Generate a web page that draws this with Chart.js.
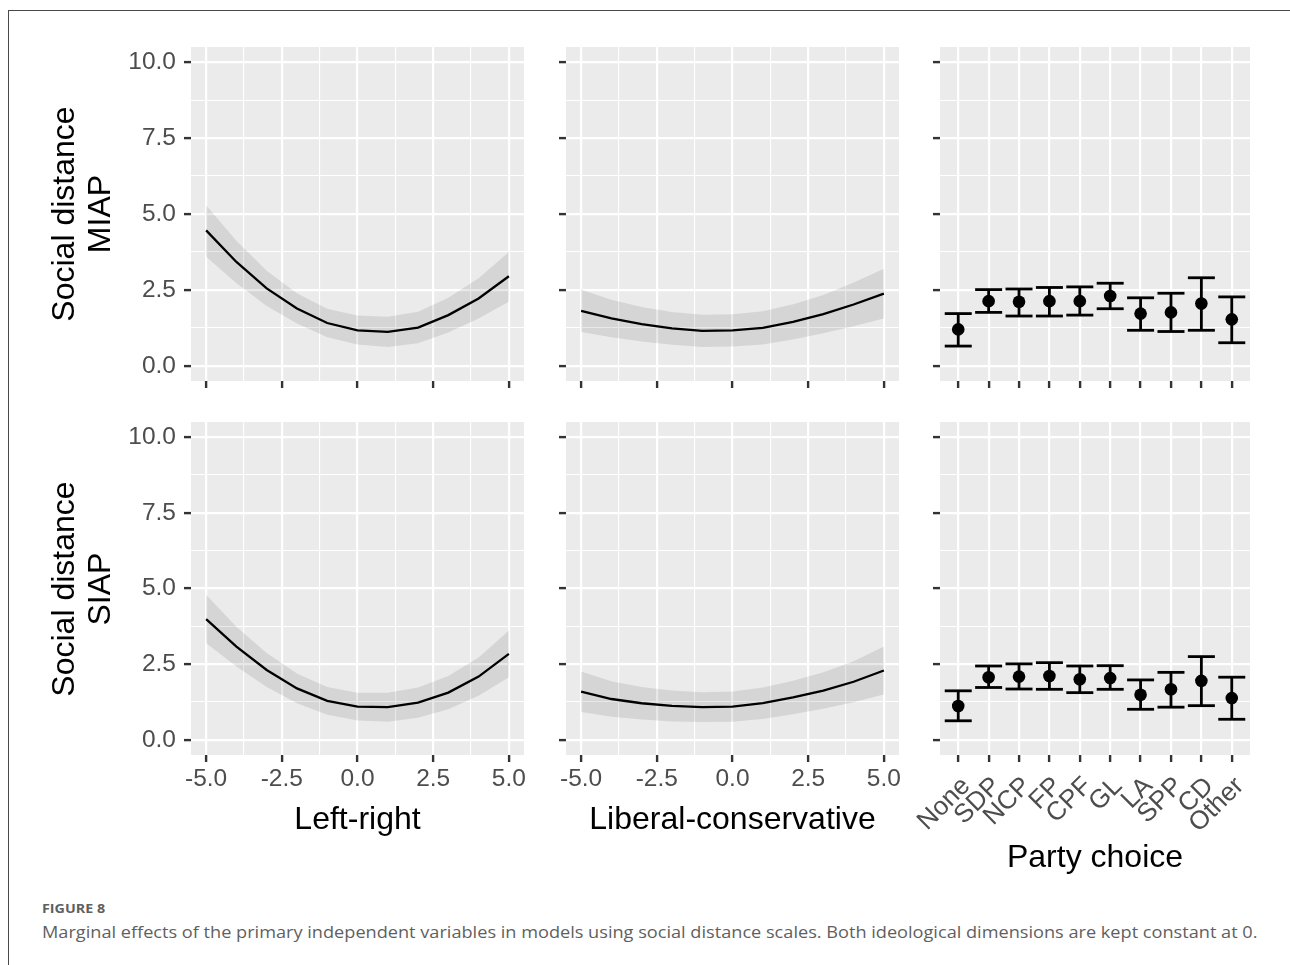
<!DOCTYPE html>
<html>
<head>
<meta charset="utf-8">
<script src="https://cdn.jsdelivr.net/npm/chart.js@4.4.1/dist/chart.umd.min.js"></script>
<style>
  html, body { margin: 0; padding: 0; background: #ffffff; }
  body { position: relative; width: 1290px; height: 965px; overflow: hidden; font-family: 'Liberation Sans', Arial, Helvetica, sans-serif; }
  .panel { position: absolute; }
  .panel canvas { display: block; }
  .xtitle { position: absolute; color: #000; font-size: 32px; line-height: 32px; white-space: nowrap; text-align: center; }
  .ytitle { position: absolute; color: #000; font-size: 32px; line-height: 36px; white-space: nowrap; text-align: center; width: 320px; height: 72px; transform: rotate(-90deg); transform-origin: 50% 50%; }
  .frame-top { position: absolute; left: 8px; top: 10px; width: 1282px; height: 1px; background: #4a4a4a; }
  .frame-left { position: absolute; left: 8px; top: 10px; width: 1px; height: 955px; background: #4a4a4a; }
  .figlabel { position: absolute; left: 42px; top: 899px; font-family: 'Open Sans', 'Noto Sans', sans-serif; font-weight: 700; font-size: 13px; color: #5f5f5f; white-space: nowrap; transform-origin: 0 50%; transform: scaleX(1.1); }
  .caption { position: absolute; left: 42px; top: 920px; font-family: 'Open Sans', 'Noto Sans', sans-serif; font-size: 16.4px; color: #5f5f5f; white-space: nowrap; transform-origin: 0 50%; transform: scaleX(1.107); }
</style>
</head>
<body>
<div class="frame-top"></div>
<div class="frame-left"></div>

<script>
// ---------------- DATA ----------------
const ideologyX = [-5, -4, -3, -2, -1, 0, 1, 2, 3, 4, 5];

// Left-right, MIAP
const lrMiapEst  = [4.46, 3.42, 2.55, 1.89, 1.41, 1.17, 1.12, 1.26, 1.67, 2.22, 2.95];
const lrMiapHigh = [5.29, 4.12, 3.13, 2.39, 1.88, 1.66, 1.62, 1.78, 2.24, 2.88, 3.75];
const lrMiapLow  = [3.59, 2.72, 1.97, 1.39, 0.94, 0.70, 0.62, 0.74, 1.10, 1.56, 2.11];

// Liberal-conservative, MIAP
const lcMiapEst  = [1.81, 1.56, 1.37, 1.23, 1.15, 1.17, 1.25, 1.45, 1.70, 2.02, 2.38];
const lcMiapHigh = [2.51, 2.18, 1.94, 1.77, 1.68, 1.70, 1.80, 2.03, 2.33, 2.74, 3.20];
const lcMiapLow  = [1.11, 0.94, 0.80, 0.69, 0.62, 0.64, 0.70, 0.87, 1.07, 1.30, 1.56];

// Left-right, SIAP
const lrSiapEst  = [3.99, 3.08, 2.31, 1.70, 1.29, 1.10, 1.08, 1.23, 1.56, 2.09, 2.84];
const lrSiapHigh = [4.79, 3.74, 2.87, 2.19, 1.75, 1.56, 1.56, 1.73, 2.11, 2.72, 3.61];
const lrSiapLow  = [3.19, 2.42, 1.75, 1.21, 0.83, 0.64, 0.60, 0.73, 1.01, 1.46, 2.07];

// Liberal-conservative, SIAP
const lcSiapEst  = [1.59, 1.35, 1.21, 1.12, 1.08, 1.10, 1.21, 1.40, 1.63, 1.92, 2.29];
const lcSiapHigh = [2.26, 1.94, 1.75, 1.63, 1.57, 1.60, 1.73, 1.95, 2.23, 2.60, 3.08];
const lcSiapLow  = [0.92, 0.76, 0.67, 0.61, 0.59, 0.60, 0.69, 0.85, 1.03, 1.24, 1.50];

// Party choice
const parties = ['None', 'SDP', 'NCP', 'FP', 'CPF', 'GL', 'LA', 'SPP', 'CD', 'Other'];
const partyMiapEst  = [1.20, 2.13, 2.11, 2.13, 2.13, 2.30, 1.72, 1.76, 2.05, 1.53];
const partyMiapLow  = [0.65, 1.76, 1.64, 1.64, 1.67, 1.88, 1.17, 1.13, 1.17, 0.76];
const partyMiapHigh = [1.72, 2.51, 2.53, 2.58, 2.60, 2.72, 2.24, 2.39, 2.90, 2.27];
const partySiapEst  = [1.12, 2.07, 2.09, 2.11, 2.00, 2.04, 1.49, 1.67, 1.95, 1.38];
const partySiapLow  = [0.63, 1.73, 1.68, 1.67, 1.56, 1.67, 1.01, 1.08, 1.13, 0.68];
const partySiapHigh = [1.62, 2.44, 2.51, 2.55, 2.44, 2.45, 1.98, 2.23, 2.75, 2.07];

// Tick values and labels
const xTickValues  = [-5, -2.5, 0, 2.5, 5];
const xTickLabels  = ['-5.0', '-2.5', '0.0', '2.5', '5.0'];
const xMinorValues = [-3.75, -1.25, 1.25, 3.75];
const yTickValues  = [0, 2.5, 5, 7.5, 10];
const yTickLabels  = ['0.0', '2.5', '5.0', '7.5', '10.0'];
const yMinorValues = [1.25, 3.75, 6.25, 8.75];

// Titles
const rowTitles = [['Social distance', 'MIAP'], ['Social distance', 'SIAP']];
const colTitles = ['Left-right', 'Liberal-conservative', 'Party choice'];
const figureLabel = 'FIGURE 8';
const figureCaption = 'Marginal effects of the primary independent variables in models using social distance scales. Both ideological dimensions are kept constant at 0.';

// ---------------- STYLE / HELPERS ----------------
const FONT = "'Liberation Sans', Arial, Helvetica, sans-serif";
const PANEL_BG = '#ebebeb';
const TICK_COLOR = '#333333';
const LABEL_COLOR = '#4d4d4d';

const panelBg = {
  id: 'panelBg',
  beforeDraw(chart) {
    const a = chart.chartArea;
    const ctx = chart.ctx;
    ctx.save();
    ctx.fillStyle = PANEL_BG;
    ctx.fillRect(a.left, a.top, a.right - a.left, a.bottom - a.top);
    ctx.restore();
  }
};

function near(a, b) { return Math.abs(a - b) < 1e-9; }

function axisCfg(o) {
  const all = o.major.concat(o.minor).sort((a, b) => a - b);
  const isMajor = v => o.major.some(m => near(m, v));
  return {
    type: 'linear',
    min: o.min, max: o.max,
    afterBuildTicks: s => { s.ticks = all.map(v => ({ value: v })); },
    afterFit: s => { if (o.width != null) s.width = o.width; if (o.height != null) s.height = o.height; },
    border: { display: false },
    grid: {
      color: '#ffffff',
      lineWidth: c => (c.tick && isMajor(c.tick.value)) ? 2.2 : 1.1,
      drawTicks: true,
      tickLength: 7,
      tickColor: c => (c.tick && isMajor(c.tick.value)) ? TICK_COLOR : 'rgba(0,0,0,0)',
      tickWidth: c => (c.tick && isMajor(c.tick.value)) ? 2.4 : 1
    },
    ticks: {
      display: o.showLabels,
      autoSkip: false,
      padding: o.pad,
      labelOffset: o.labelOffset || 0,
      color: LABEL_COLOR,
      font: { family: FONT, size: o.fontSize || 24.5 },
      minRotation: o.rotate || 0,
      maxRotation: o.rotate || 0,
      callback: (v) => {
        const i = o.major.findIndex(m => near(m, v));
        return i >= 0 ? o.labels[i] : '';
      }
    }
  };
}

function curveDatasets(est, lo, hi) {
  const pts = arr => ideologyX.map((x, i) => ({ x: x, y: arr[i] }));
  return [
    { data: pts(hi), borderWidth: 0, borderColor: 'rgba(0,0,0,0)', pointRadius: 0, fill: false, tension: 0 },
    { data: pts(lo), borderWidth: 0, borderColor: 'rgba(0,0,0,0)', pointRadius: 0, fill: '-1', backgroundColor: 'rgba(0,0,0,0.09)', tension: 0 },
    { data: pts(est), borderWidth: 2.3, borderColor: '#000000', pointRadius: 0, fill: false, tension: 0 }
  ];
}

function partyDatasets(est, lo, hi) {
  const bars = [];
  parties.forEach((p, i) => {
    bars.push({ x: i + 1, y: lo[i] }, { x: i + 1, y: hi[i] }, { x: i + 1, y: null });
  });
  return [
    { data: bars, showLine: true, spanGaps: false, borderColor: '#000000', borderWidth: 2.8,
      pointStyle: 'line', pointRadius: 13.5, pointBorderWidth: 2.8, pointBorderColor: '#000000', pointBackgroundColor: '#000000', fill: false },
    { data: est.map((v, i) => ({ x: i + 1, y: v })), showLine: false,
      pointStyle: 'circle', pointRadius: 6.3, pointBorderWidth: 0, pointBackgroundColor: '#000000', pointBorderColor: '#000000', fill: false }
  ];
}

// ---------------- PANELS ----------------
const panels = [
  { area: [191, 47, 524, 381], yLabels: true,  xMode: 'none',  ds: curveDatasets(lrMiapEst, lrMiapLow, lrMiapHigh) },
  { area: [566, 47, 899, 381], yLabels: false, xMode: 'none',  ds: curveDatasets(lcMiapEst, lcMiapLow, lcMiapHigh) },
  { area: [940, 47, 1250, 381], yLabels: false, xMode: 'noneParty', ds: partyDatasets(partyMiapEst, partyMiapLow, partyMiapHigh) },
  { area: [191, 422, 524, 755], yLabels: true,  xMode: 'num',   ds: curveDatasets(lrSiapEst, lrSiapLow, lrSiapHigh) },
  { area: [566, 422, 899, 755], yLabels: false, xMode: 'num',   ds: curveDatasets(lcSiapEst, lcSiapLow, lcSiapHigh) },
  { area: [940, 422, 1250, 755], yLabels: false, xMode: 'party', ds: partyDatasets(partySiapEst, partySiapLow, partySiapHigh) }
];

panels.forEach(p => {
  const [l, t, r, b] = p.area;
  const isParty = p.xMode === 'party' || p.xMode === 'noneParty';
  const Wy = p.yLabels ? 100 : 12;
  const padL = isParty ? 50 : 0;
  const T = 30, R = 30;
  const Hx = p.xMode === 'num' ? 50 : (p.xMode === 'party' ? 110 : 30);
  const cw = padL + Wy + (r - l) + R;
  const ch = T + (b - t) + Hx;

  const div = document.createElement('div');
  div.className = 'panel';
  div.style.left = (l - Wy - padL) + 'px';
  div.style.top = (t - T) + 'px';
  div.style.width = cw + 'px';
  div.style.height = ch + 'px';
  const cv = document.createElement('canvas');
  cv.width = cw; cv.height = ch;
  cv.style.width = cw + 'px'; cv.style.height = ch + 'px';
  div.appendChild(cv);
  document.body.appendChild(div);

  const xScale = isParty
    ? axisCfg({ min: 0.4, max: 10.6, major: parties.map((q, i) => i + 1), minor: [], labels: parties,
                showLabels: p.xMode === 'party', rotate: 45, pad: 9, labelOffset: 8, fontSize: 26, height: Hx })
    : axisCfg({ min: -5.5, max: 5.5, major: xTickValues, minor: xMinorValues, labels: xTickLabels,
                showLabels: p.xMode === 'num', pad: 3, height: Hx });
  const yScale = axisCfg({ min: -0.5, max: 10.5, major: yTickValues, minor: yMinorValues, labels: yTickLabels,
                           showLabels: p.yLabels, pad: 8, width: Wy });

  new Chart(cv, {
    type: 'line',
    data: { datasets: p.ds },
    options: {
      responsive: false,
      animation: false,
      devicePixelRatio: 1,
      events: [],
      layout: { padding: { left: padL, top: T, right: R, bottom: 0 } },
      plugins: { legend: { display: false }, tooltip: { enabled: false }, title: { display: false } },
      scales: { x: xScale, y: yScale }
    },
    plugins: [panelBg]
  });
});

// ---------------- TEXT ----------------
function addDiv(cls, text, css) {
  const d = document.createElement('div');
  d.className = cls;
  if (Array.isArray(text)) {
    text.forEach((line, i) => { if (i) d.appendChild(document.createElement('br')); d.appendChild(document.createTextNode(line)); });
  } else d.textContent = text;
  Object.assign(d.style, css);
  document.body.appendChild(d);
  return d;
}

// Row (y) titles, centred at given points
[[81, 214], [81, 589]].forEach((c, i) => {
  addDiv('ytitle', rowTitles[i], { left: (c[0] - 160) + 'px', top: (c[1] - 36) + 'px' });
});
// Column (x) titles
[[357.5, 802], [732.5, 802], [1095, 840]].forEach((c, i) => {
  addDiv('xtitle', colTitles[i], { left: (c[0] - 200) + 'px', top: c[1] + 'px', width: '400px' });
});
addDiv('figlabel', figureLabel, {});
addDiv('caption', figureCaption, {});
</script>
</body>
</html>
